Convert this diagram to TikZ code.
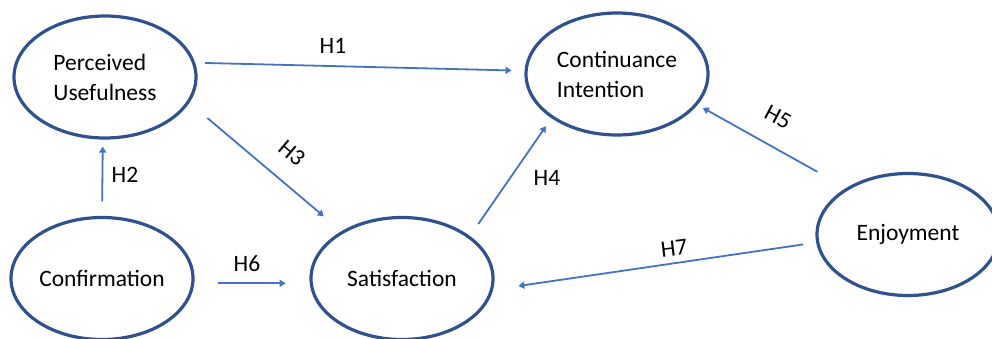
\documentclass[tikz,border=0pt]{standalone}
\usepackage{fontspec}
\setmainfont{Carlito}
\usetikzlibrary{shapes.geometric}
\usetikzlibrary{arrows.meta}
\definecolor{ringblue}{HTML}{2F528F}
\definecolor{arrowblue}{HTML}{4472C4}
\tikzset{ construct/.style={
         draw=ringblue, line width=3.2pt, ellipse,
         minimum width=182pt, minimum height=122pt, inner sep=0pt,
         font=\fontsize{23.5}{30}\selectfont, align=left},
        hyp/.style={draw=arrowblue, line width=1.8pt,
         -{Triangle[length=6pt,width=7pt]}},
        hyplabel/.style={font=\fontsize{23.5}{30}\selectfont, inner sep=0pt}}

\begin{document}
\begin{tikzpicture}[x=1pt, y=-1pt]
\useasboundingbox (0,0) rectangle (992,338);
\clip (0,0) rectangle (992,338);

\node[construct] (pu) at (105,77) {Perceived\\Usefulness};
\node[construct] (ci) at (617,74) {Continuance\\Intention};
\node[construct] (cf) at (102,278.5) {Confirmation};
\node[construct] (sa) at (402,278.5) {Satisfaction};
\node[construct] (en) at (908,234.5) {Enjoyment};

\foreach \a/\b/\s/\e in {pu.9/ci.178/10/13, %H1
                         cf.90/pu.268/14.5/7, %H2
                         pu.-17/sa.142/23.5/23, %H3
                         sa.32/ci.214/14.6/9.7, %H4
                         en.143/ci.-21/33/6, %H5
                         cf.-3/sa.183/24/24, %H6
                         en.185/sa.-7/13/25.5} %H7
  \draw[hyp, shorten <=\s pt, shorten >=\e pt] (\a)--(\b);

\foreach \n/\x/\y/\r in {H1/333/46/0, H2/125/175/0, H3/292/153/-40,
                         H4/547/178/0, H5/778/117/-28, H6/247/264/0,
                         H7/674/248/7}
  \node[hyplabel, rotate=\r] (\n) at (\x,\y) {\n};

\end{tikzpicture}
\end{document}
